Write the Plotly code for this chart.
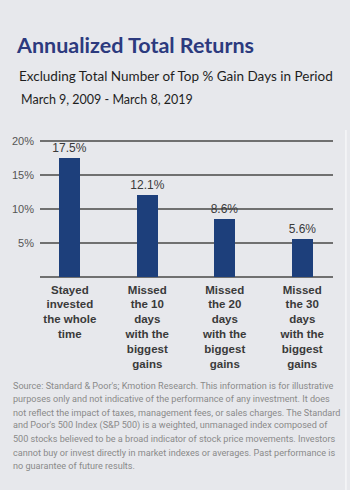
import plotly.graph_objects as go

categories = ["Stayed<br>invested<br>the whole<br>time",
              "Missed<br>the 10<br>days<br>with the<br>biggest<br>gains",
              "Missed<br>the 20<br>days<br>with the<br>biggest<br>gains",
              "Missed<br>the 30<br>days<br>with the<br>biggest<br>gains"]
returns = [17.5, 12.1, 8.6, 5.6]
y_ticks = [5, 10, 15, 20]
y_tick_labels = ["5%", "10%", "15%", "20%"]

title = "Annualized Total Returns"
subtitle = "Excluding Total Number of Top % Gain Days in Period"
period = "March 9, 2009 - March 8, 2019"
footnote_lines = [
    "Source: Standard &amp; Poor's; Kmotion Research. This information is for illustrative",
    "purposes only and not indicative of the performance of any investment. It does",
    "not reflect the impact of taxes, management fees, or sales charges. The Standard",
    "and Poor's 500 Index (S&amp;P 500) is a weighted, unmanaged index composed of",
    "500 stocks believed to be a broad indicator of stock price movements. Investors",
    "cannot buy or invest directly in market indexes or averages. Past performance is",
    "no guarantee of future results.",
]

BG = "#e7e8ec"
BAR = "#1d3f7b"
NAVY = "#2c3a7e"
GRID = "#707070"

W, H = 350, 490
L, R, T, B = 38, 17, 139, 213
pw, ph = W - L - R, H - T - B

def px_x(x):
    return (x - L) / pw

def px_y(y):
    return (H - B - y) / ph

xs = list(range(len(categories)))

fig = go.Figure()
fig.add_trace(go.Bar(
    x=xs, y=returns, width=0.27,
    marker=dict(color=BAR, line=dict(width=0)),
    text=[f"{v:.1f}%" for v in returns],
    textposition="outside",
    constraintext="none",
    textfont=dict(family="Liberation Sans, Arial, sans-serif", size=12, color="#3a3a3a"),
    cliponaxis=False,
    hoverinfo="skip",
))

fig.update_layout(
    width=W, height=H,
    margin=dict(l=L, r=R, t=T, b=B, pad=0),
    paper_bgcolor=BG, plot_bgcolor=BG,
    showlegend=False,
    title=dict(text=f"<b>{title}</b>", x=17 / W, xanchor="left", xref="container",
               y=1 - 45 / H, yanchor="middle", yref="container",
               font=dict(family="Lato, Open Sans, sans-serif", size=21.5, color=NAVY)),
    xaxis=dict(range=[-0.385, 3.397], tickmode="array", tickvals=xs, ticktext=categories,
               tickfont=dict(family="Liberation Sans, Arial, sans-serif", size=11.5,
                             color="#3a3a3a", weight="bold"),
               showgrid=False, zeroline=False, showline=False, ticks="", fixedrange=True,
               ticklabelstandoff=4),
    yaxis=dict(range=[0, 20.3], tickmode="array", tickvals=y_ticks, ticktext=y_tick_labels,
               tickfont=dict(family="Liberation Sans, Arial, sans-serif", size=11, color="#555555"),
               showgrid=True, gridcolor=GRID, gridwidth=1.5,
               zeroline=True, zerolinecolor=GRID, zerolinewidth=1.5,
               showline=False, ticks="", ticklabelstandoff=5, fixedrange=True),
    bargap=0,
)

fig.add_annotation(text=subtitle, xref="paper", yref="paper", x=px_x(15), y=px_y(75.5),
                   xanchor="left", yanchor="middle", showarrow=False,
                   font=dict(family="Lato, sans-serif", size=13.5, color="#1e1e1e"))
fig.add_annotation(text=period, xref="paper", yref="paper", x=px_x(17), y=px_y(99),
                   xanchor="left", yanchor="middle", showarrow=False,
                   font=dict(family="Lato, sans-serif", size=12.5, color="#1e1e1e"))
for i, line in enumerate(footnote_lines):
    fig.add_annotation(text=line, xref="paper", yref="paper", x=px_x(9),
                       y=px_y(385.7 + 13.4 * i),
                       xanchor="left", yanchor="middle", align="left", showarrow=False,
                       font=dict(family="Roboto, sans-serif", size=9.1, color="#8a8a8a"))
fig.add_shape(type="line", xref="paper", yref="paper",
              x0=px_x(346), x1=px_x(346), y0=px_y(130), y1=px_y(490),
              line=dict(color="#f6f6f8", width=1.5))

fig.write_html("out.html")
